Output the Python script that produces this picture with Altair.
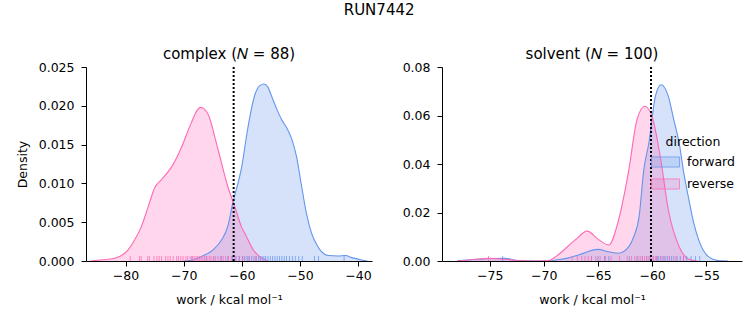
import altair as alt
import pandas as pd

directions = ["forward", "reverse"]
line_colors = ["#6495ED", "#FF69B4"]
fill_colors = ["rgba(100,149,237,0.27)", "rgba(255,105,180,0.27)"]

# ---- complex panel: KDE curves ----
cx_fwd_x = [-70.0, -68.6, -67.0, -64.7, -63.5, -62.4, -61.6, -60.0, -58.9, -57.8, -56.9, -56.2,
            -55.5, -54.9, -54.0, -53.2, -52.3, -51.4, -50.6, -49.7, -48.9, -48.0, -47.1, -46.3,
            -45.1, -43.4, -42.2, -40.9, -39.2, -38.4]
cx_fwd_y = [0.0, 0.0001, 0.00056, 0.0016, 0.0027, 0.0045, 0.0073, 0.0122, 0.0174, 0.0213, 0.0226, 0.0228,
            0.0224, 0.0213, 0.0196, 0.0183, 0.0172, 0.0157, 0.0135, 0.0096, 0.0062, 0.0036, 0.0021, 0.0012,
            0.0007, 0.00065, 0.0007, 0.0004, 0.0001, 0.0]
cx_rev_x = [-86.0, -84.8, -81.9, -79.6, -78.45, -77.3, -76.1, -75.0, -73.8, -72.1, -70.4, -68.7,
            -67.6, -67.1, -66.5, -65.8, -64.1, -62.4, -61.2, -60.05, -59.5, -57.8, -56.6, -55.5]
cx_rev_y = [0.0, 0.0001, 0.00035, 0.0014, 0.0027, 0.0044, 0.0070, 0.0094, 0.0105, 0.0121, 0.0146, 0.0178,
            0.0195, 0.0198, 0.0196, 0.0189, 0.0144, 0.0096, 0.0070, 0.0044, 0.0036, 0.0012, 0.0004, 0.0]
cx_fwd_rug = [-68.6, -66.1, -64.8, -63.5, -62.4, -61.6, -61.0, -60.4, -59.9, -59.5, -59.1, -58.7,
              -58.3, -57.9, -57.5, -57.1, -56.8, -56.5, -56.2, -55.9, -55.5, -55.1, -54.7, -54.3,
              -53.9, -53.5, -53.1, -52.7, -52.3, -51.8, -51.3, -50.8, -50.2, -49.6, -47.5, -46.8, -42.4]
cx_rev_rug = [-79.2, -77.6, -77.3, -76.2, -75.9, -75.1, -74.6, -74.2, -73.8, -73.1, -72.7, -72.3,
              -71.8, -71.2, -70.9, -70.5, -70.1, -69.6, -69.3, -68.9, -68.5, -68.2, -67.9, -67.6,
              -67.3, -67.0, -66.7, -66.4, -66.0, -65.6, -65.3, -64.9, -64.5, -64.1, -63.7, -63.2,
              -62.8, -62.3, -61.8, -61.2, -60.5, -59.8, -58.9, -57.6, -56.8]
cx_dg = [-61.4]

# ---- solvent panel ----
sv_fwd_x = [-78.0, -76.1, -74.8, -73.6, -72.4, -71.0, -69.5, -68.9, -67.8, -66.8, -65.0, -64.0,
            -63.1, -62.15, -61.7, -61.2, -60.77, -60.3, -59.7, -59.17, -58.5, -58.0, -57.5, -57.07,
            -56.6, -56.15, -55.7, -54.8, -53.9, -53.0]
sv_fwd_y = [0.0, 0.0007, 0.0010, 0.0011, 0.0002, 0.0, 0.0, 0.0004, 0.0012, 0.0025, 0.0048, 0.0038,
            0.0032, 0.0059, 0.0100, 0.0183, 0.0376, 0.0486, 0.0679, 0.0727, 0.0679, 0.0583, 0.0486, 0.0362,
            0.0252, 0.0156, 0.0087, 0.0018, 0.0002, 0.0]
sv_rev_x = [-78.0, -76.3, -75.07, -73.6, -72.0, -70.5, -69.5, -68.9, -67.1, -66.0, -64.9, -64.0,
            -63.1, -62.15, -61.4, -60.67, -60.0, -59.2, -58.5, -57.5, -56.6, -55.8]
sv_rev_y = [0.0, 0.0007, 0.0011, 0.0007, 0.0001, 0.0, 0.0002, 0.0018, 0.0087, 0.0123, 0.0087, 0.0066,
            0.0169, 0.0376, 0.0583, 0.0638, 0.0596, 0.0417, 0.0211, 0.0059, 0.0007, 0.0]
sv_fwd_rug = [-73.8, -65.6, -65.0, -64.4, -64.0, -62.1, -61.4, -60.9, -60.5, -60.2, -59.9, -59.6,
              -59.4, -59.2, -59.0, -58.8, -58.6, -58.4, -58.2, -58.0, -57.7, -57.4, -57.1, -56.8,
              -56.4, -56.0, -55.6]
sv_rev_rug = [-75.1, -67.4, -66.9, -66.5, -66.2, -65.9, -65.6, -65.2, -64.8, -64.3, -63.8, -63.0,
              -62.3, -61.9, -61.6, -61.3, -61.1, -60.9, -60.7, -60.5, -60.3, -60.1, -59.9, -59.7,
              -59.5, -59.2, -58.9, -58.4, -57.8, -57.1]
sv_dg = [-60.1]

FONT = "DejaVu Sans"
H = 194


def curves(fx, fy, rx, ry):
    return pd.DataFrame({
        "work": list(fx) + list(rx),
        "density": list(fy) + list(ry),
        "direction": ["forward"] * len(fx) + ["reverse"] * len(rx),
    })


def rugs(f, r):
    return pd.DataFrame({"work": list(f) + list(r),
                         "direction": ["forward"] * len(f) + ["reverse"] * len(r)})


def panel(cdf, rdf, dg, title, xdom, xticks, ydom, yticks, yfmt, width, ytitle, legend):
    fill_scale = alt.Scale(domain=directions, range=fill_colors)
    stroke_scale = alt.Scale(domain=directions, range=line_colors)
    x = alt.X("work:Q", scale=alt.Scale(domain=xdom, nice=False, zero=False),
              axis=alt.Axis(values=xticks, format="d", title="work / kcal mol⁻¹"))
    yaxis = alt.Axis(values=yticks, format=yfmt, title=ytitle) if ytitle else \
        alt.Axis(values=yticks, format=yfmt, title=None)
    y = alt.Y("density:Q", stack=None, scale=alt.Scale(domain=ydom, nice=False), axis=yaxis)
    area = alt.Chart(cdf).mark_area(interpolate="monotone", clip=True).encode(
        x=x, y=y, fill=alt.Fill("direction:N", scale=fill_scale, legend=legend))
    line = alt.Chart(cdf).mark_line(interpolate="monotone", strokeWidth=1.1, clip=True).encode(
        x=x, y=y,
        stroke=alt.Stroke("direction:N", scale=stroke_scale, legend=legend))
    rug = alt.Chart(rdf).mark_rule(strokeWidth=1, opacity=0.75).encode(
        x=x, y=alt.value(H), y2=alt.value(H - 5),
        stroke=alt.Stroke("direction:N", scale=stroke_scale, legend=legend))
    rule = alt.Chart(pd.DataFrame({"work": dg})).mark_rule(
        color="black", strokeDash=[2, 2], strokeWidth=2).encode(x=x)
    return alt.layer(area, line, rug, rule).properties(
        width=width, height=H,
        title=alt.TitleParams(title, fontSize=15, fontWeight="normal", font=FONT, offset=-1))


leg = alt.Legend(title="direction", orient="none", legendX=209, legendY=69,
                 symbolType="M-1,-0.36L1,-0.36L1,0.36L-1,0.36Z", symbolSize=784,
                 symbolStrokeWidth=1, labelFontSize=12.5, titleFontSize=12.5,
                 titleFontWeight="normal", titleAnchor="middle", rowPadding=-8,
                 labelOffset=7, labelFont=FONT, titleFont=FONT, labelColor="black",
                 titleColor="black", titlePadding=-1)

left = panel(curves(cx_fwd_x, cx_fwd_y, cx_rev_x, cx_rev_y), rugs(cx_fwd_rug, cx_rev_rug), cx_dg,
             "complex (𝑁 = 88)", [-86.8, -37.6], [-80, -70, -60, -50, -40],
             [0, 0.025], [0, 0.005, 0.01, 0.015, 0.02, 0.025], ".3f", 286, "Density", None)
right = panel(curves(sv_fwd_x, sv_fwd_y, sv_rev_x, sv_rev_y), rugs(sv_fwd_rug, sv_rev_rug), sv_dg,
              "solvent (𝑁 = 100)", [-79.4, -51.7], [-75, -70, -65, -60, -55],
              [0, 0.08], [0, 0.02, 0.04, 0.06, 0.08], ".2f", 300, None, leg)

chart = alt.hconcat(left, right, spacing=30).resolve_scale(
    fill="independent", stroke="independent").resolve_legend(
    fill="independent", stroke="independent").properties(
    title=alt.TitleParams("RUN7442", anchor="middle", fontSize=15, fontWeight="normal",
                          font=FONT, offset=29),
    padding={"left": 16, "top": 3, "right": 5, "bottom": 5}
).configure(font=FONT).configure_view(stroke=None).configure_axis(
    grid=False, domainColor="black", tickColor="black", labelColor="black",
    titleColor="black", labelFont=FONT, titleFont=FONT, labelFontSize=12.5,
    titleFontSize=12.5, titleFontWeight="normal", tickSize=5, labelPadding=7,
    domainWidth=1, tickWidth=1, labelOverlap=False
).configure_axisY(titlePadding=9).configure_axisX(titlePadding=12, labelPadding=3)

chart.save("out.html", embed_options={"renderer": "svg", "actions": False})
